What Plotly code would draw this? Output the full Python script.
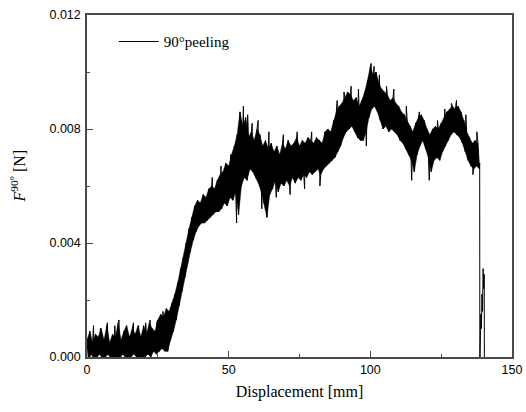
import plotly.graph_objects as go

# Peel force record, 90 degree peeling test.
# Each 1 mm step holds the upper and lower edge of the noisy force band (N).
disp_mm = list(range(0, 139))

force_hi = [
    0.0006, 0.0009, 0.0005, 0.0008, 0.0007, 0.0010, 0.0006, 0.0011, 0.0005, 0.0008,
    0.0007, 0.0012, 0.0006, 0.0009, 0.0011, 0.0007, 0.0010, 0.0008, 0.0011, 0.0007,
    0.0011, 0.0008, 0.0012, 0.0010, 0.0009, 0.0013, 0.0015, 0.0014, 0.0017, 0.0016,
    0.0019, 0.0022, 0.0026, 0.0031, 0.0035, 0.0040, 0.0045, 0.0049, 0.0053, 0.0055,
    0.0054, 0.0057, 0.0056, 0.0059, 0.0060, 0.0059, 0.0062, 0.0064, 0.0065, 0.0068,
    0.0067, 0.0071, 0.0074, 0.0078, 0.0086, 0.0081, 0.0084, 0.0077, 0.0079, 0.0076,
    0.0080, 0.0078, 0.0074, 0.0076, 0.0073, 0.0075, 0.0072, 0.0074, 0.0071, 0.0075,
    0.0073, 0.0076, 0.0074, 0.0075, 0.0077, 0.0074, 0.0076, 0.0075, 0.0077, 0.0076,
    0.0075, 0.0077, 0.0076, 0.0075, 0.0079, 0.0080, 0.0079, 0.0083, 0.0086, 0.0088,
    0.0089, 0.0091, 0.0093, 0.0092, 0.0090, 0.0091, 0.0088, 0.0090, 0.0093, 0.0097,
    0.0102, 0.0099, 0.0100, 0.0096, 0.0094, 0.0093, 0.0092, 0.0090, 0.0091, 0.0089,
    0.0088, 0.0086, 0.0085, 0.0083, 0.0081, 0.0079, 0.0082, 0.0084, 0.0085, 0.0083,
    0.0080, 0.0078, 0.0080, 0.0081, 0.0080, 0.0082, 0.0084, 0.0086, 0.0087, 0.0088,
    0.0087, 0.0088, 0.0086, 0.0083, 0.0079, 0.0077, 0.0075, 0.0076, 0.0075,
]

force_lo = [
    -0.0001, 0.0001, -0.0001, 0.0000, 0.0001, -0.0001, 0.0000, 0.0001, -0.0001, 0.0000,
    0.0000, -0.0001, 0.0001, 0.0000, -0.0001, 0.0000, 0.0001, 0.0000, -0.0001, 0.0000,
    0.0000, 0.0001, 0.0000, 0.0002, 0.0001, 0.0002, 0.0003, 0.0002, 0.0002, 0.0006,
    0.0009, 0.0013, 0.0018, 0.0023, 0.0028, 0.0033, 0.0037, 0.0041, 0.0044, 0.0046,
    0.0047, 0.0047, 0.0048, 0.0049, 0.0050, 0.0051, 0.0051, 0.0052, 0.0054, 0.0053,
    0.0056, 0.0055, 0.0058, 0.0050, 0.0060, 0.0063, 0.0062, 0.0066, 0.0065, 0.0063,
    0.0061, 0.0058, 0.0054, 0.0049, 0.0057, 0.0059, 0.0062, 0.0058, 0.0061, 0.0060,
    0.0062, 0.0060, 0.0063, 0.0061, 0.0063, 0.0062, 0.0064, 0.0063, 0.0065, 0.0064,
    0.0065, 0.0066, 0.0064, 0.0066, 0.0067, 0.0068, 0.0069, 0.0070, 0.0072, 0.0074,
    0.0077, 0.0079, 0.0080, 0.0081, 0.0079, 0.0077, 0.0076, 0.0076, 0.0079, 0.0084,
    0.0087, 0.0088, 0.0086, 0.0083, 0.0080, 0.0081, 0.0079, 0.0080, 0.0079, 0.0078,
    0.0076, 0.0075, 0.0073, 0.0071, 0.0069, 0.0065, 0.0071, 0.0074, 0.0076, 0.0073,
    0.0070, 0.0065, 0.0069, 0.0070, 0.0069, 0.0072, 0.0074, 0.0076, 0.0078, 0.0079,
    0.0078, 0.0077, 0.0075, 0.0072, 0.0069, 0.0067, 0.0066, 0.0067, 0.0066,
]

# Isolated spikes that stand out of the band.
spike_mm = [
    2.3, 4.7, 7.2, 9.8, 11.3, 13.6, 16.4, 18.2, 20.7, 22.3, 24.6, 26.8,
    44.2, 47.3, 50.7, 52.8, 55.2, 56.7, 58.3, 60.4, 61.7, 64.2, 66.8,
    69.3, 71.7, 74.2, 76.8, 79.3, 82.2, 88.3, 90.7, 93.2, 95.8, 98.6,
    100.3, 101.3, 103.2, 105.7, 108.3, 112.7, 114.6, 117.3, 120.8, 123.7,
    126.3, 128.6, 130.4, 133.7, 136.2, 137.6,
]
spike_force = [
    0.0011, 0.0010, 0.0012, 0.0011, 0.0013, 0.0010, 0.0012, 0.0011, 0.0012, 0.0013, 0.0012, 0.0016,
    0.0063, 0.0067, 0.0071, 0.0047, 0.0088, 0.0085, 0.0082, 0.0083, 0.0052, 0.0079, 0.0056,
    0.0078, 0.0057, 0.0079, 0.0059, 0.0079, 0.0060, 0.0090, 0.0093, 0.0095, 0.0094, 0.0074,
    0.0103, 0.0102, 0.0099, 0.0095, 0.0094, 0.0088, 0.0062, 0.0086, 0.0062, 0.0083,
    0.0087, 0.0089, 0.0090, 0.0085, 0.0064, 0.0079,
]

# Detachment at the end of the strip: sudden drop, short rebound, final release.
tail_mm = [138.6, 138.65, 138.8, 138.9, 139.0, 139.2, 139.4, 139.6, 139.8, 140.0, 140.2, 140.25]
tail_force = [0.0068, -0.0003, 0.0012, 0.0005, 0.0015, 0.0010, 0.0022, 0.0016, 0.0031, 0.0024, 0.0029, -0.0003]

x_ticks = [0, 50, 100, 150]
y_ticks = [0.000, 0.004, 0.008, 0.012]
y_tick_text = ["0.000", "0.004", "0.008", "0.012"]

# Alternating upper/lower path with the spikes merged in order of displacement.
pts = []
for d, hi, lo in zip(disp_mm, force_hi, force_lo):
    pts += [(d, hi), (d + 0.5, lo)]
pts += list(zip(spike_mm, spike_force))
pts.sort(key=lambda p: p[0])
pts += list(zip(tail_mm, tail_force))
xs = [p[0] for p in pts]
ys = [p[1] for p in pts]

lo_x = [d + 0.5 for d in disp_mm]

fig = go.Figure()
# Solid core of the band between the lower and upper edges.
fig.add_trace(go.Scatter(
    x=lo_x, y=force_lo, mode="lines", line=dict(color="black", width=0.5),
    showlegend=False, hoverinfo="skip",
))
fig.add_trace(go.Scatter(
    x=disp_mm, y=force_hi, mode="lines", line=dict(color="black", width=0.5),
    fill="tonexty", fillcolor="black", showlegend=False, hoverinfo="skip",
))
fig.add_trace(go.Scatter(
    x=xs, y=ys, mode="lines", name="90°peeling",
    line=dict(color="black", width=1),
))

axis_common = dict(
    showgrid=False, zeroline=False, automargin=False,
    showline=True, linecolor="#4a4a4a", linewidth=1.5, mirror=True,
    ticks="inside", ticklen=6, tickwidth=1.2, tickcolor="#4a4a4a",
    tickfont=dict(family="Liberation Sans, Arial", size=12.5, color="black"),
    minor=dict(ticks="inside", ticklen=3, tickwidth=1.1, tickcolor="#4a4a4a"),
)

serif = "Liberation Serif, Times New Roman"

fig.update_xaxes(
    range=[0, 150], tickvals=x_ticks, minor_dtick=25,
    title=dict(text="Displacement [mm]", standoff=10,
               font=dict(family=serif, size=16, color="black")),
    **axis_common,
)
fig.update_yaxes(
    range=[0, 0.012], tickvals=y_ticks, ticktext=y_tick_text, minor_dtick=0.002,
    ticklabelstandoff=2,
    **axis_common,
)

# Y-axis title, placed a little above the axis middle.
fig.add_annotation(
    text="<i>F</i><sup>90°</sup> [N]", textangle=-90,
    xref="paper", yref="paper", x=-0.163, y=0.53,
    xanchor="center", yanchor="middle", showarrow=False,
    font=dict(family=serif, size=16, color="black"),
)

fig.update_layout(
    width=526, height=412,
    margin=dict(l=87, r=14, t=15, b=55),
    paper_bgcolor="white", plot_bgcolor="white",
    showlegend=True,
    legend=dict(x=0.063, y=0.97, xanchor="left", yanchor="top", itemwidth=40,
                bgcolor="rgba(0,0,0,0)",
                font=dict(family=serif, size=15, color="black")),
)

fig.write_html("out.html")
